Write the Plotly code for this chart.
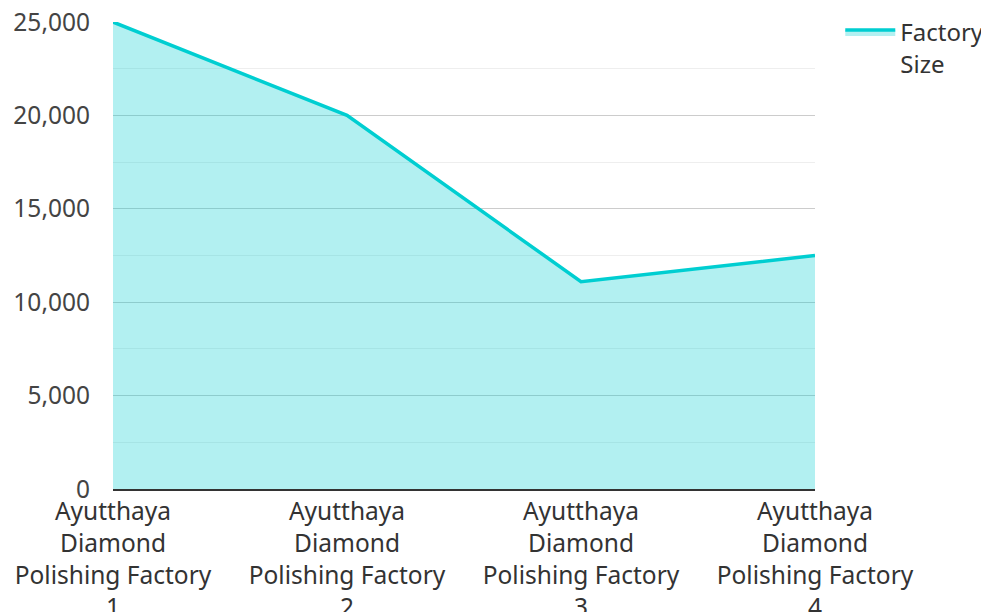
import plotly.graph_objects as go

categories = [
    "Ayutthaya<br>Diamond<br>Polishing Factory<br>1",
    "Ayutthaya<br>Diamond<br>Polishing Factory<br>2",
    "Ayutthaya<br>Diamond<br>Polishing Factory<br>3",
    "Ayutthaya<br>Diamond<br>Polishing Factory<br>4",
]
factory_size = [25000, 20000, 11100, 12500]
series_name = "Factory<br>Size"

fig = go.Figure()
fig.add_trace(go.Scatter(
    x=categories, y=factory_size, name=series_name,
    mode="lines", fill="tozeroy",
    line=dict(color="#00CED1", width=3.5),
    fillcolor="rgba(0,206,209,0.3)",
))

font_family = "Noto Sans"
fs = 24.5
fig.update_layout(
    width=981, height=604,
    margin=dict(l=105, r=174, t=14, b=123, autoexpand=False),
    paper_bgcolor="white", plot_bgcolor="white",
    font=dict(family=font_family, size=fs, color="#444"),
    showlegend=True,
    legend=dict(x=1.036, y=1.026, xanchor="left", yanchor="top",
                itemwidth=50, borderwidth=0, valign="top",
                font=dict(size=24, color="#333"), bgcolor="rgba(0,0,0,0)"),
    xaxis=dict(
        type="category", range=[0, 3], showgrid=False, automargin=False,
        showline=True, linecolor="#333", linewidth=2,
        tickfont=dict(size=fs, color="#333"), ticks="",
        ticklabeloverflow="allow",
    ),
    yaxis=dict(
        range=[0, 25000], dtick=5000, tickformat=",d", automargin=False,
        showgrid=True, gridcolor="#ccc", gridwidth=1,
        zeroline=False, showline=False, ticks="",
        ticklabelstandoff=22, ticklabeloverflow="allow",
        tickfont=dict(size=fs, color="#444"),
        minor=dict(dtick=2500, showgrid=True, gridcolor="#eee", gridwidth=1),
    ),
)

fig.write_html("out.html")
